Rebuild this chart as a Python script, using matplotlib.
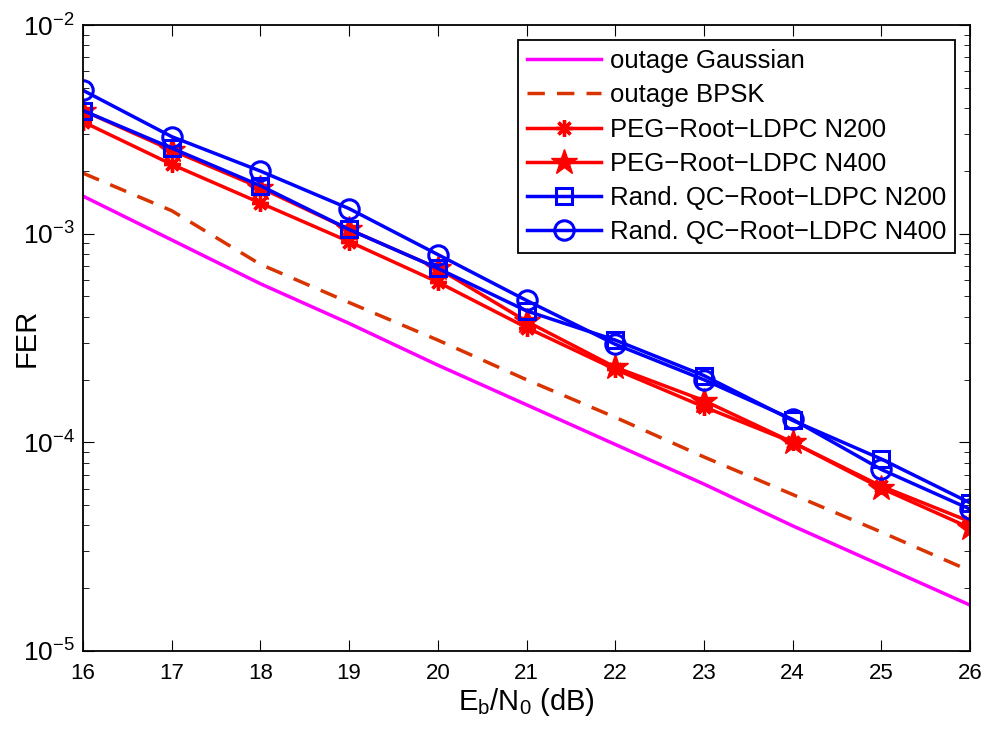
import matplotlib.pyplot as plt
import numpy as np

plt.rcParams['font.family'] = ['Liberation Sans', 'DejaVu Sans']
plt.rcParams['mathtext.fontset'] = 'custom'
plt.rcParams['mathtext.rm'] = 'Liberation Sans'
plt.rcParams['mathtext.it'] = 'Liberation Sans'

snr = [16, 17, 18, 19, 20, 21, 22, 23, 24, 25, 26]

# log10 of FER
out_gauss = [-2.82, -3.03, -3.24, -3.43, -3.63, -3.82, -4.01, -4.20, -4.40, -4.59, -4.78]
out_bpsk = [-2.71, -2.89, -3.147, -3.33, -3.51, -3.70, -3.88, -4.07, -4.25, -4.43, -4.616]
peg_200 = [-2.464, -2.668, -2.853, -3.038, -3.232, -3.45, -3.65, -3.83, -4.0, -4.21, -4.38]
peg_400 = [-2.41, -2.60, -2.78, -2.98, -3.166, -3.42, -3.64, -3.80, -4.0, -4.22, -4.41]
qc_200 = [-2.41, -2.59, -2.77, -2.98, -3.166, -3.37, -3.51, -3.68, -3.895, -4.08, -4.29]
qc_400 = [-2.313, -2.535, -2.70, -2.88, -3.10, -3.32, -3.53, -3.70, -3.89, -4.13, -4.32]

fig = plt.figure(figsize=(9.87, 7.29), dpi=100)
ax = fig.add_axes([0.0841, 0.107, 0.8987, 0.8587])

lw = 2.5
ax.semilogy(snr, 10**np.array(out_gauss), color=(1, 0, 1), lw=lw, label='outage Gaussian')
ax.semilogy(snr, 10**np.array(out_bpsk), color=(0.85, 0.2, 0.0), lw=lw, ls=(0, (5, 3.5)), label='outage BPSK')
ax.semilogy(snr, 10**np.array(peg_200), color='red', lw=lw, marker=(8, 2, 0), ms=12, mew=2.4, label='PEG\u2212Root\u2212LDPC N200')
ax.semilogy(snr, 10**np.array(peg_400), color='red', lw=lw, marker='*', ms=19, label='PEG\u2212Root\u2212LDPC N400')
ax.semilogy(snr, 10**np.array(qc_200), color='blue', lw=lw, marker='s', ms=11, mfc='none', mew=2.2, label='Rand. QC\u2212Root\u2212LDPC N200')
ax.semilogy(snr, 10**np.array(qc_400), color='blue', lw=lw, marker='o', ms=14, mfc='none', mew=2.2, label='Rand. QC\u2212Root\u2212LDPC N400')

ax.set_xlim(16, 26)
ax.set_ylim(1e-5, 1e-2)
ax.set_xticks(snr)
ax.tick_params(which='both', direction='in', top=True, right=True)
ax.tick_params(axis='x', pad=9, labelsize=16)
ax.tick_params(axis='y', pad=6, labelsize=19)
ax.tick_params(which='major', length=8)
ax.tick_params(which='minor', length=4)
for s in ax.spines.values():
    s.set_linewidth(1.3)

ax.set_xlabel(r'$\mathregular{E_b/N_0}$ (dB)', fontsize=21, labelpad=1)
ax.set_ylabel('FER', fontsize=21)
ax.yaxis.set_label_coords(-0.048, 0.5)

leg = ax.legend(loc='upper right', bbox_to_anchor=(0.983, 0.976), borderaxespad=0, fontsize=18.5,
                fancybox=False, framealpha=1, edgecolor='black', handlelength=2.85,
                labelspacing=0.4, borderpad=0.35, handletextpad=0.35)
leg.get_frame().set_linewidth(1.3)

fig.savefig('out.png', dpi=100)
